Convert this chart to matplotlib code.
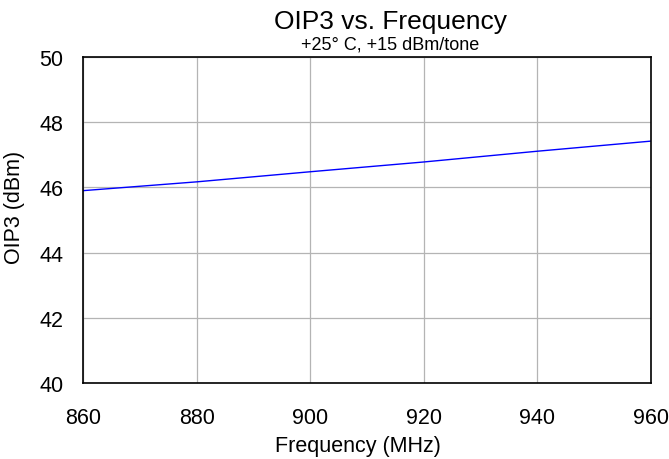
import matplotlib
matplotlib.use("Agg")
import matplotlib.pyplot as plt

freq = [860, 880, 900, 920, 940, 960]
oip3 = [45.90, 46.17, 46.48, 46.78, 47.11, 47.42]
xticks = [860, 880, 900, 920, 940, 960]
yticks = [40, 42, 44, 46, 48, 50]

plt.rcParams['font.family'] = ['Liberation Sans', 'DejaVu Sans']

W, H = 669, 460
fig = plt.figure(figsize=(W/100, H/100), dpi=100)
ax = fig.add_axes([83/W, 1-384/H, (651-83)/W, (384-58)/H])
ax.plot(freq, oip3, color='#0000ff', lw=1.0)
ax.set_xlim(860, 960)
ax.set_ylim(40, 50)
ax.set_xticks(xticks)
ax.set_yticks(yticks)
ax.tick_params(axis='x', length=0, labelsize=15.5, pad=17.5)
ax.tick_params(axis='y', length=0, labelsize=15.5, pad=14)
ax.grid(True, color='#b4b4b4', lw=0.9)
for s in ax.spines.values():
    s.set_color('black')
    s.set_linewidth(1.2)

fig.text(357.5/W, 1-452/H, 'Frequency (MHz)', ha='center', va='baseline', fontsize=15.5)
fig.text(15/W, 1-207.5/H, 'OIP3 (dBm)', ha='center', va='center', rotation=90, fontsize=15.5)
fig.text(390.5/W, 1-29/H, 'OIP3 vs. Frequency', ha='center', va='baseline', fontsize=19)
fig.text(390.5/W, 1-50/H, '+25° C, +15 dBm/tone', ha='center', va='baseline', fontsize=13)
fig.savefig('out.png', dpi=100)
